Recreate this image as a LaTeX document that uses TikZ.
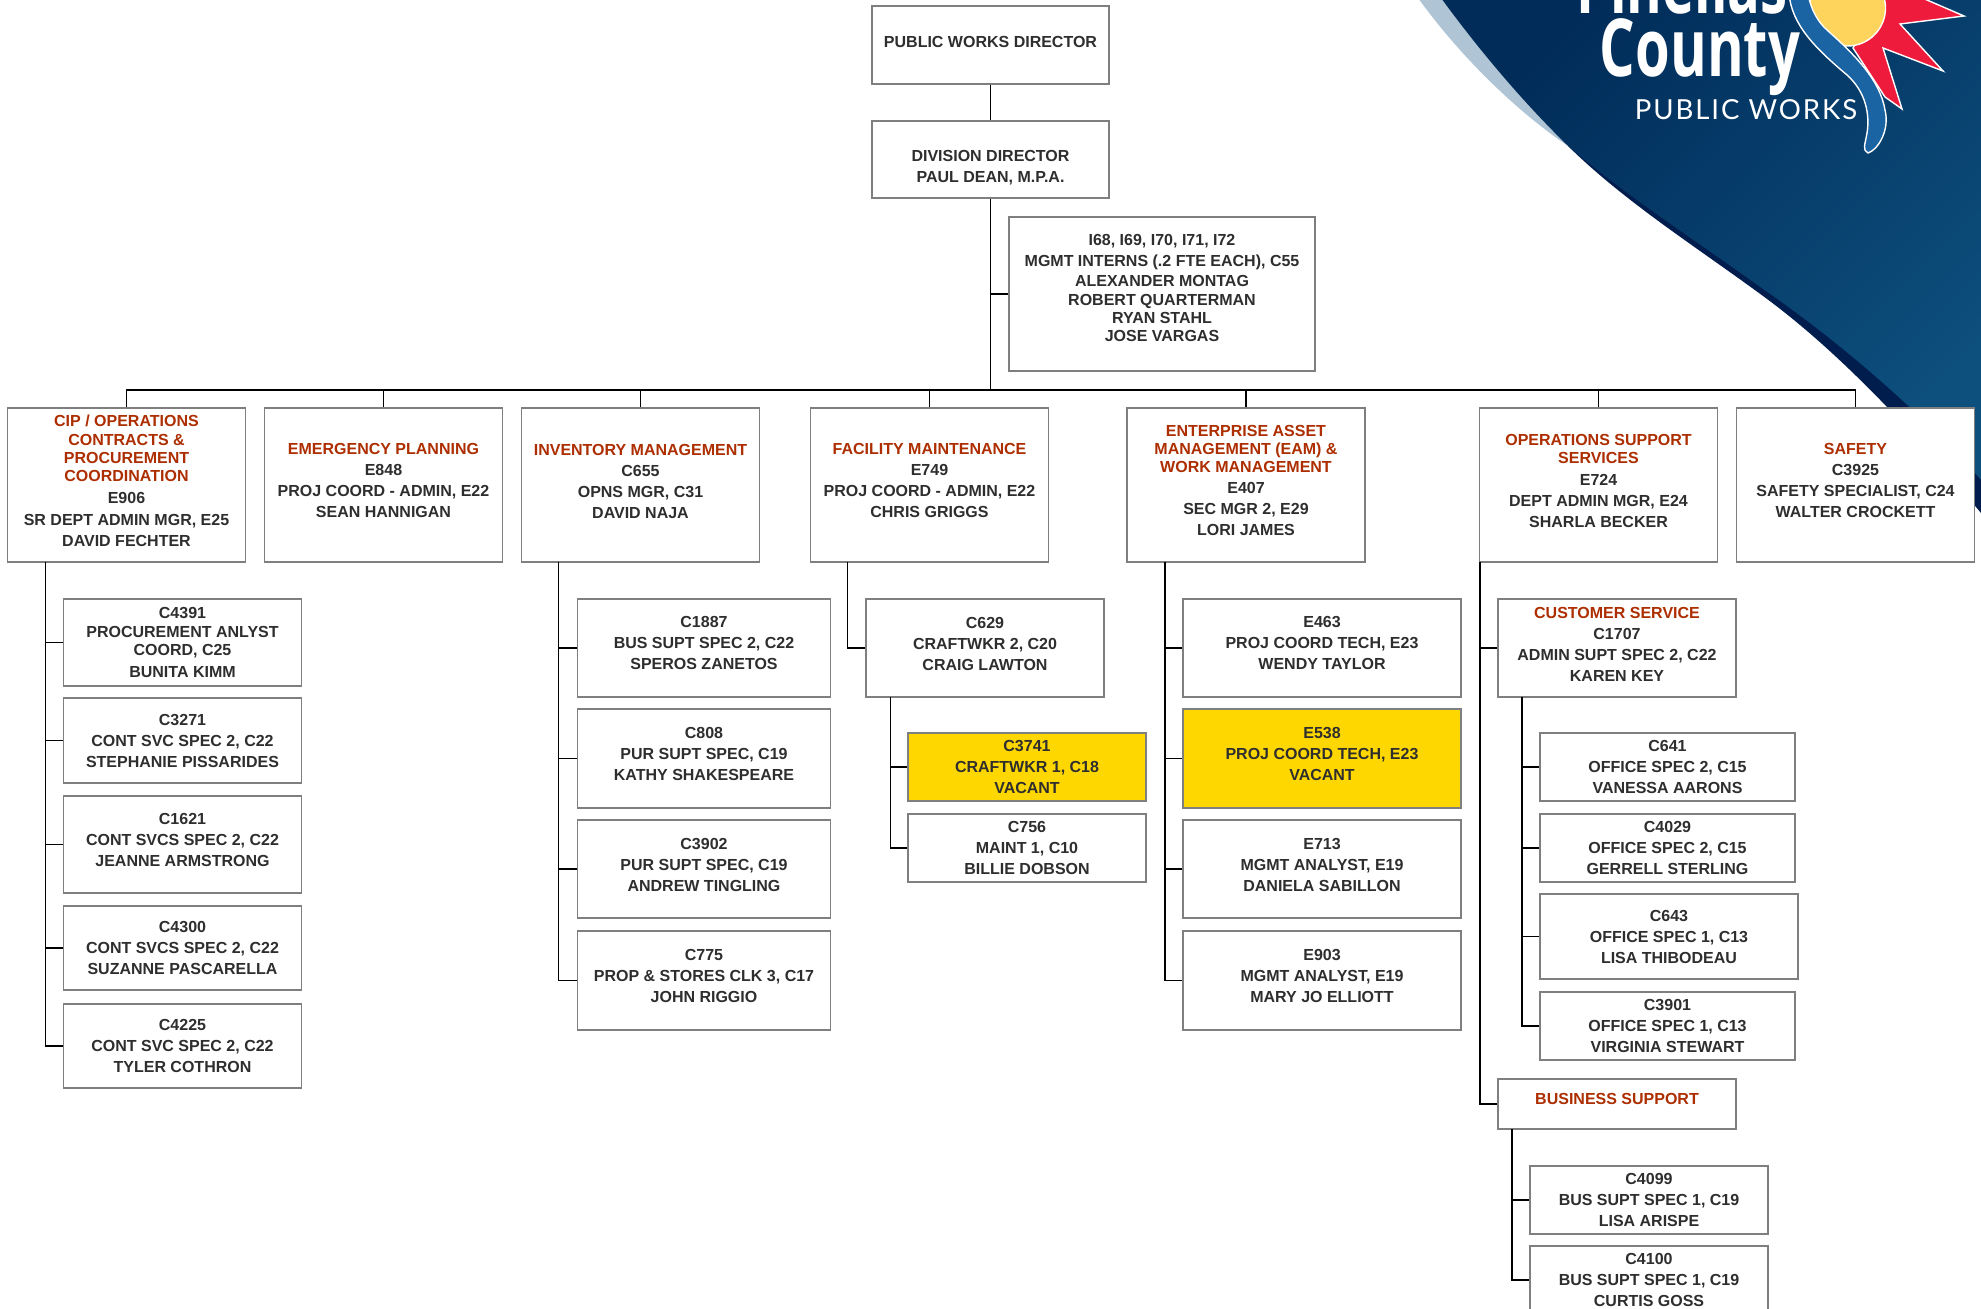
\documentclass[tikz,border=0pt]{standalone}
\usepackage{fontspec}
\setmainfont{Liberation Sans}
\newfontfamily\logofont{Open Sans}
\newfontfamily\logothin[LetterSpace=7]{Lato}
\definecolor{titlered}{HTML}{AD2E00}
\definecolor{bodygrey}{HTML}{2E2E2E}
\definecolor{edgegrey}{HTML}{7F7F7F}
\definecolor{vacantyellow}{HTML}{FFD700}
\definecolor{bannerdark}{HTML}{012C59}
\definecolor{bannerlight}{HTML}{0D4F7D}
\definecolor{bannernavy}{HTML}{001D4E}
\definecolor{sliver}{HTML}{AFC5D5}
\definecolor{ribbon}{HTML}{1A64A4}
\definecolor{sunyellow}{HTML}{FFD45C}
\definecolor{starred}{HTML}{EF1B3C}
\newcommand{\depttitle}[1]{\textcolor{titlered}{#1}}
\tikzset{
	posbox/.style={draw=edgegrey, fill=white, line width=0.75pt, inner sep=0pt, align=center, text=bodygrey,
		font=\bfseries\fontsize{8}{10.5}\selectfont},
	boxsize/.style 2 args={minimum width=#1*0.5pt, minimum height=#2*0.5pt},
	lift/.style={execute at end node={\rule[-#1]{0pt}{#1}}},
	drop/.style={execute at begin node={\rule{0pt}{#1}}},
	drop/.default=7.6pt,
	vacant/.style={fill=vacantyellow},
	link/.style={draw=black, line width=0.6pt},
	logopart/.style={draw=white, line width=0.7pt}
}
\begin{document}
\begin{tikzpicture}[x=0.5pt,y=-0.5pt]
	\clip[use as bounding box] (0,0) rectangle (1981,1309);
	% banner
	\fill[sliver] (1418,-2) .. controls (1460,56) and (1515,110) .. (1568,146) .. controls (1525,104) and (1482,54) .. (1441,-2) -- cycle;
	\fill[bannernavy] (1568,146) .. controls (1625,202) and (1695,246) .. (1763,296) .. controls (1830,345) and (1905,420) .. (1990,524) -- (1990,-2) -- (1568,-2) -- cycle;
	\shade[left color=bannerdark, middle color=bannerdark!75!bannerlight, right color=bannerlight, shading angle=45] (1441,-2) .. controls (1482,54) and (1525,104) .. (1568,146) .. controls (1625,195) and (1695,240) .. (1763,289) .. controls (1840,342) and (1925,415) .. (1990,490) -- (1990,-2) -- cycle;
	\node[text=white, font=\logofont\bfseries\fontsize{40}{40}\selectfont, anchor=base, xscale=0.68, transform shape, inner sep=0pt] (pinellas) at (1682,14) {Pinellas};
	\node[text=white, font=\logofont\bfseries\fontsize{40}{40}\selectfont, anchor=base, xscale=0.7, transform shape, inner sep=0pt] (county) at (1700,77) {County};
	\node[text=white, font=\logothin\fontsize{13.8}{14}\selectfont, anchor=base, inner sep=0pt] (works) at (1746,120) {PUBLIC WORKS};
	\draw[logopart, fill=starred] (1885,-5) -- (1920,-3) -- (1964,16) -- (1900,24) -- (1943,71) -- (1883,48) -- (1902,109) -- (1885,97) -- (1853,48) -- cycle;
	\draw[logopart, fill=sunyellow] (1847.5,8) circle[radius=19pt];
	\draw[logopart, fill=ribbon] (1789,-6) .. controls (1792,25) and (1815,48) .. (1847,75) .. controls (1866,92) and (1870,115) .. (1867,133) .. controls (1865,145) and (1862,150) .. (1868,153) .. controls (1878,150) and (1890,130) .. (1885,110) .. controls (1880,80) and (1855,55) .. (1827,30) .. controls (1818,22) and (1811,10) .. (1808,-6) -- cycle;

	% head of the division
	\node[posbox, boxsize={237}{78}, lift=3.5pt] (director) at (990.5,45) {PUBLIC WORKS DIRECTOR};
	\node[posbox, boxsize={237}{77}] (division) at (990.5,159.5) {\rule{0pt}{14pt}DIVISION DIRECTOR\\PAUL DEAN, M.P.A.};
	\node[posbox, drop, boxsize={306}{154}, lift=6pt] (interns) at (1162,294) {I68, I69, I70, I71, I72\\MGMT INTERNS (.2 FTE EACH), C55\\[-0.5pt]ALEXANDER MONTAG\\[-1pt]ROBERT QUARTERMAN\\[-1.4pt]RYAN STAHL\\[-1.4pt]JOSE VARGAS};

	% departments
	\node[posbox, boxsize={238}{154}, lift=4pt] (cip) at (126.5,485) {\depttitle{CIP / OPERATIONS}\\[-1pt]\depttitle{CONTRACTS \&}\\[-1.5pt]\depttitle{PROCUREMENT}\\[-1.5pt]\depttitle{COORDINATION}\\[0.5pt]E906\\[0.5pt]SR DEPT ADMIN MGR, E25\\DAVID FECHTER};
	\node[posbox, boxsize={238}{154}, lift=5pt] (emergency) at (383.5,485) {\depttitle{EMERGENCY PLANNING}\\E848\\PROJ COORD - ADMIN, E22\\SEAN HANNIGAN};
	\node[posbox, boxsize={238}{154}, lift=4pt] (inventory) at (640.5,485) {\depttitle{INVENTORY MANAGEMENT}\\C655\\OPNS MGR, C31\\DAVID NAJA};
	\node[posbox, boxsize={238}{154}, lift=5pt] (facility) at (929.5,485) {\depttitle{FACILITY MAINTENANCE}\\E749\\PROJ COORD - ADMIN, E22\\CHRIS GRIGGS};
	\node[posbox, boxsize={238}{154}, lift=4.5pt] (eam) at (1246,485) {\depttitle{ENTERPRISE ASSET}\\[-1.5pt]\depttitle{MANAGEMENT (EAM) \&}\\[-1.5pt]\depttitle{WORK MANAGEMENT}\\E407\\SEC MGR 2, E29\\LORI JAMES};
	\node[posbox, boxsize={238}{154}, lift=4pt] (opsupport) at (1598.5,485) {\depttitle{OPERATIONS SUPPORT}\\[-1.5pt]\depttitle{SERVICES}\\[0.5pt]E724\\DEPT ADMIN MGR, E24\\SHARLA BECKER};
	\node[posbox, boxsize={238}{154}, lift=5pt] (safety) at (1855.5,485) {\depttitle{SAFETY}\\C3925\\SAFETY SPECIALIST, C24\\WALTER CROCKETT};

	% cip staff
	\node[posbox, boxsize={238}{87}] (c4391) at (182.5,642.5) {C4391\\[-1pt]PROCUREMENT ANLYST\\[-1.5pt]COORD, C25\\[0.5pt]BUNITA KIMM};
	\node[posbox, drop, boxsize={238}{85}] (c3271) at (182.5,740.5) {C3271\\CONT SVC SPEC 2, C22\\STEPHANIE PISSARIDES};
	\node[posbox, boxsize={238}{97}, lift=5pt] (c1621) at (182.5,844.5) {C1621\\CONT SVCS SPEC 2, C22\\JEANNE ARMSTRONG};
	\node[posbox, drop, boxsize={238}{84}] (c4300) at (182.5,948) {C4300\\CONT SVCS SPEC 2, C22\\SUZANNE PASCARELLA};
	\node[posbox, drop, boxsize={238}{84}] (c4225) at (182.5,1046) {C4225\\CONT SVC SPEC 2, C22\\TYLER COTHRON};

	% inventory staff
	\node[posbox, boxsize={253}{98}, lift=5pt] (c1887) at (704,648) {C1887\\BUS SUPT SPEC 2, C22\\SPEROS ZANETOS};
	\node[posbox, boxsize={253}{99}, lift=5pt] (c808) at (704,758.5) {C808\\PUR SUPT SPEC, C19\\KATHY SHAKESPEARE};
	\node[posbox, boxsize={253}{98}, lift=4pt] (c3902) at (704,869) {C3902\\PUR SUPT SPEC, C19\\ANDREW TINGLING};
	\node[posbox, boxsize={253}{99}, lift=5pt] (c775) at (704,980.5) {C775\\PROP \& STORES CLK 3, C17\\JOHN RIGGIO};

	% facility staff
	\node[posbox, boxsize={238}{98}, lift=4pt] (c629) at (985,648) {C629\\CRAFTWKR 2, C20\\CRAIG LAWTON};
	\node[posbox, drop, vacant, boxsize={238}{68}] (c3741) at (1027,767) {C3741\\CRAFTWKR 1, C18\\VACANT};
	\node[posbox, drop, boxsize={238}{68}] (c756) at (1027,848) {C756\\MAINT 1, C10\\BILLIE DOBSON};

	% eam staff
	\node[posbox, boxsize={278}{98}, lift=5pt] (e463) at (1322,648) {E463\\PROJ COORD TECH, E23\\WENDY TAYLOR};
	\node[posbox, vacant, boxsize={278}{99}, lift=5pt] (e538) at (1322,758.5) {E538\\PROJ COORD TECH, E23\\VACANT};
	\node[posbox, boxsize={278}{98}, lift=4pt] (e713) at (1322,869) {E713\\MGMT ANALYST, E19\\DANIELA SABILLON};
	\node[posbox, boxsize={278}{99}, lift=5pt] (e903) at (1322,980.5) {E903\\MGMT ANALYST, E19\\MARY JO ELLIOTT};

	% operations support staff
	\node[posbox, boxsize={238}{98}, lift=4pt] (customer) at (1617,648) {\depttitle{CUSTOMER SERVICE}\\C1707\\ADMIN SUPT SPEC 2, C22\\KAREN KEY};
	\node[posbox, drop, boxsize={255}{68}] (c641) at (1667.5,767) {C641\\OFFICE SPEC 2, C15\\VANESSA AARONS};
	\node[posbox, drop, boxsize={255}{68}] (c4029) at (1667.5,848) {C4029\\OFFICE SPEC 2, C15\\GERRELL STERLING};
	\node[posbox, drop, boxsize={258}{85}] (c643) at (1669,936.5) {C643\\OFFICE SPEC 1, C13\\LISA THIBODEAU};
	\node[posbox, drop, boxsize={255}{68}] (c3901) at (1667.5,1026) {C3901\\OFFICE SPEC 1, C13\\VIRGINIA STEWART};
	\node[posbox, boxsize={238}{50}, lift=5pt] (business) at (1617,1104) {\depttitle{BUSINESS SUPPORT}};
	\node[posbox, drop, boxsize={238}{68}] (c4099) at (1649,1200) {C4099\\BUS SUPT SPEC 1, C19\\LISA ARISPE};
	\node[posbox, drop, boxsize={238}{68}] (c4100) at (1649,1280) {C4100\\BUS SUPT SPEC 1, C19\\CURTIS GOSS};

	% connectors
	\coordinate (bus) at (990.5,390);
	\coordinate (ciptrunk) at (45.5,562);
	\coordinate (inventorytrunk) at (558.5,562);
	\coordinate (facilitytrunk) at (847.5,562);
	\coordinate (craftstrunk) at (890.5,697);
	\coordinate (eamtrunk) at (1165,562);
	\coordinate (opsupporttrunk) at (1480,562);
	\coordinate (customertrunk) at (1522,697);
	\coordinate (businesstrunk) at (1512,1129);
	\draw[link] (director) -- (division);
	\draw[link] (division) -- (bus);
	\draw[link] (interns.west) -- (interns.west -| bus);
	\foreach \dept in {cip,emergency,inventory,facility,eam,opsupport,safety}
		\draw[link] (bus) -| (\dept.north);
	\foreach \kid in {c4391,c3271,c1621,c4300,c4225}
		\draw[link] (ciptrunk) |- (\kid.west);
	\foreach \kid in {c1887,c808,c3902,c775}
		\draw[link] (inventorytrunk) |- (\kid.west);
	\draw[link] (facilitytrunk) |- (c629.west);
	\foreach \kid in {c3741,c756}
		\draw[link] (craftstrunk) |- (\kid.west);
	\foreach \kid in {e463,e538,e713,e903}
		\draw[link] (eamtrunk) |- (\kid.west);
	\foreach \kid in {customer,business}
		\draw[link] (opsupporttrunk) |- (\kid.west);
	\foreach \kid in {c641,c4029,c643,c3901}
		\draw[link] (customertrunk) |- (\kid.west);
	\foreach \kid in {c4099,c4100}
		\draw[link] (businesstrunk) |- (\kid.west);
\end{tikzpicture}
\end{document}
